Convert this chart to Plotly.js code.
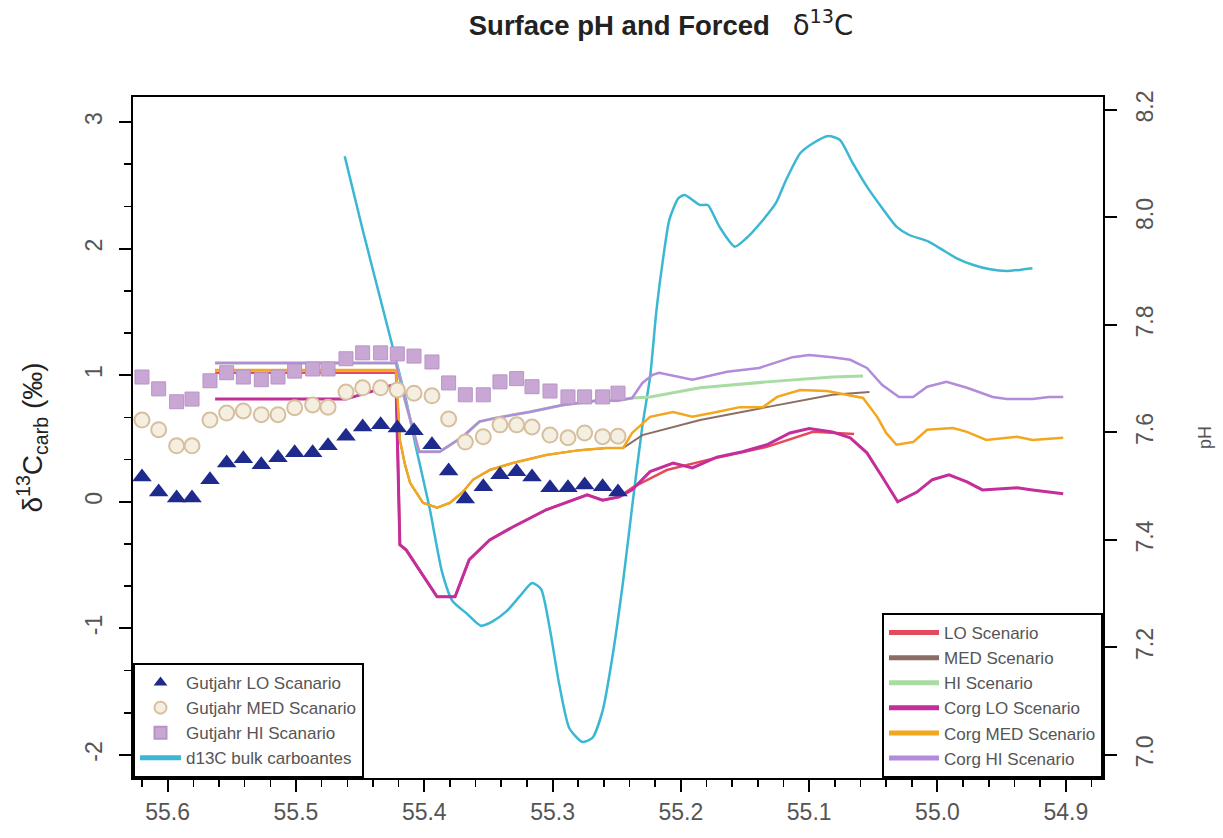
<!DOCTYPE html>
<html>
<head>
<meta charset="utf-8">
<script src="https://cdn.plot.ly/plotly-3.0.1.min.js"></script>
<style>
  html, body { margin: 0; padding: 0; background: #ffffff; }
  #chart { width: 1223px; height: 838px; }
</style>
</head>
<body>
<div id="chart"></div>
<script>
// ---------- data (age in Ma, reversed axis) ----------
const gutjahrAge = [55.620, 55.607, 55.593, 55.581, 55.567, 55.554, 55.541, 55.527, 55.514, 55.501, 55.487, 55.475, 55.461, 55.448, 55.434, 55.421, 55.408, 55.394, 55.381, 55.368, 55.354, 55.341, 55.328, 55.316, 55.302, 55.288, 55.275, 55.261, 55.249];
const gutjahrLO  = [7.517, 7.489, 7.478, 7.478, 7.512, 7.543, 7.551, 7.540, 7.553, 7.562, 7.562, 7.575, 7.593, 7.610, 7.614, 7.608, 7.603, 7.577, 7.528, 7.476, 7.499, 7.521, 7.527, 7.517, 7.497, 7.497, 7.502, 7.499, 7.489];
const gutjahrMED = [7.623, 7.605, 7.575, 7.575, 7.623, 7.636, 7.640, 7.633, 7.633, 7.646, 7.651, 7.647, 7.675, 7.683, 7.683, 7.679, 7.673, 7.668, 7.625, 7.582, 7.592, 7.614, 7.614, 7.610, 7.595, 7.590, 7.599, 7.592, 7.593];
const gutjahrHI  = [7.703, 7.681, 7.657, 7.662, 7.696, 7.711, 7.703, 7.698, 7.703, 7.714, 7.718, 7.718, 7.737, 7.748, 7.748, 7.746, 7.742, 7.731, 7.692, 7.670, 7.670, 7.694, 7.700, 7.685, 7.677, 7.666, 7.666, 7.666, 7.673];

const bulkAge = [55.462, 55.448, 55.435, 55.422, 55.414, 55.406, 55.396, 55.386, 55.378, 55.367, 55.356, 55.347, 55.336, 55.326, 55.316, 55.309, 55.302, 55.295, 55.287, 55.277, 55.269, 55.261, 55.253, 55.245, 55.238, 55.230, 55.224, 55.219, 55.214, 55.209, 55.202, 55.197, 55.185, 55.179, 55.170, 55.158, 55.149, 55.136, 55.126, 55.118, 55.107, 55.097, 55.085, 55.076, 55.066, 55.055, 55.043, 55.032, 55.022, 55.007, 54.996, 54.985, 54.972, 54.959, 54.946, 54.936, 54.926];
const bulkD13C = [2.729, 2.149, 1.633, 1.120, 0.796, 0.409, -0.041, -0.560, -0.784, -0.882, -0.979, -0.946, -0.866, -0.752, -0.641, -0.689, -1.011, -1.431, -1.787, -1.897, -1.866, -1.652, -1.202, -0.626, -0.041, 0.599, 0.986, 1.515, 1.910, 2.226, 2.397, 2.423, 2.344, 2.344, 2.173, 2.015, 2.081, 2.226, 2.358, 2.542, 2.753, 2.832, 2.889, 2.858, 2.674, 2.489, 2.318, 2.173, 2.107, 2.055, 1.989, 1.923, 1.870, 1.836, 1.823, 1.831, 1.844];

const loAge = [55.563, 55.422, 55.419, 55.414, 55.390, 55.376, 55.365, 55.349, 55.331, 55.305, 55.273, 55.261, 55.248, 55.238, 55.211, 55.172, 55.133, 55.097, 55.065];
const loPH  = [7.711, 7.711, 7.391, 7.381, 7.294, 7.294, 7.363, 7.400, 7.424, 7.456, 7.484, 7.474, 7.480, 7.497, 7.530, 7.553, 7.573, 7.601, 7.597];

const medAge = [55.563, 55.422, 55.419, 55.415, 55.411, 55.401, 55.390, 55.380, 55.370, 55.362, 55.349, 55.331, 55.305, 55.279, 55.258, 55.245, 55.230, 55.185, 55.133, 55.082, 55.053];
const medPH  = [7.716, 7.716, 7.586, 7.540, 7.506, 7.469, 7.460, 7.469, 7.489, 7.512, 7.530, 7.543, 7.558, 7.567, 7.571, 7.571, 7.595, 7.623, 7.647, 7.670, 7.675];

const hiAge = [55.563, 55.422, 55.415, 55.404, 55.388, 55.370, 55.357, 55.344, 55.318, 55.292, 55.263, 55.250, 55.238, 55.224, 55.185, 55.133, 55.082, 55.058];
const hiPH  = [7.729, 7.729, 7.660, 7.564, 7.564, 7.592, 7.620, 7.627, 7.638, 7.651, 7.660, 7.659, 7.664, 7.666, 7.683, 7.694, 7.703, 7.705];

const corgLoAge = [55.563, 55.461, 55.422, 55.419, 55.414, 55.390, 55.376, 55.365, 55.349, 55.331, 55.305, 55.273, 55.261, 55.248, 55.238, 55.224, 55.206, 55.191, 55.172, 55.152, 55.133, 55.115, 55.100, 55.082, 55.068, 55.055, 55.043, 55.031, 55.016, 55.004, 54.991, 54.977, 54.965, 54.938, 54.926, 54.902];
const corgLoPH  = [7.662, 7.662, 7.690, 7.391, 7.381, 7.294, 7.294, 7.363, 7.400, 7.424, 7.456, 7.484, 7.474, 7.480, 7.493, 7.527, 7.543, 7.534, 7.554, 7.564, 7.577, 7.599, 7.607, 7.601, 7.590, 7.562, 7.517, 7.471, 7.489, 7.512, 7.521, 7.508, 7.493, 7.497, 7.493, 7.486];

const corgMedAge = [55.563, 55.422, 55.419, 55.415, 55.411, 55.401, 55.390, 55.380, 55.370, 55.362, 55.349, 55.331, 55.305, 55.279, 55.258, 55.245, 55.238, 55.224, 55.206, 55.191, 55.172, 55.154, 55.136, 55.125, 55.107, 55.086, 55.071, 55.058, 55.047, 55.040, 55.032, 55.019, 55.008, 54.988, 54.977, 54.962, 54.938, 54.926, 54.902];
const corgMedPH  = [7.716, 7.716, 7.586, 7.540, 7.506, 7.469, 7.460, 7.469, 7.489, 7.512, 7.530, 7.543, 7.558, 7.567, 7.571, 7.571, 7.599, 7.629, 7.638, 7.629, 7.638, 7.647, 7.647, 7.666, 7.679, 7.677, 7.670, 7.664, 7.629, 7.599, 7.577, 7.582, 7.605, 7.608, 7.601, 7.586, 7.592, 7.586, 7.590];

const corgHiAge = [55.563, 55.422, 55.415, 55.404, 55.388, 55.370, 55.357, 55.344, 55.318, 55.292, 55.263, 55.250, 55.238, 55.230, 55.222, 55.217, 55.191, 55.164, 55.139, 55.113, 55.100, 55.082, 55.068, 55.055, 55.043, 55.030, 55.019, 55.008, 54.993, 54.977, 54.957, 54.946, 54.926, 54.913, 54.902];
const corgHiPH  = [7.729, 7.729, 7.660, 7.564, 7.564, 7.592, 7.620, 7.627, 7.638, 7.651, 7.660, 7.659, 7.664, 7.692, 7.707, 7.711, 7.698, 7.713, 7.720, 7.740, 7.744, 7.740, 7.735, 7.720, 7.688, 7.666, 7.666, 7.685, 7.694, 7.683, 7.666, 7.662, 7.662, 7.666, 7.666];

const xTickVals  = [55.6, 55.5, 55.4, 55.3, 55.2, 55.1, 55.0, 54.9];
const xTickText  = ['55.6', '55.5', '55.4', '55.3', '55.2', '55.1', '55.0', '54.9'];
const yTickVals  = [-2, -1, 0, 1, 2, 3];
const yTickText  = ['-2', '-1', '0', '1', '2', '3'];
const y2TickVals = [7.0, 7.2, 7.4, 7.6, 7.8, 8.0, 8.2];
const y2TickText = ['7.0', '7.2', '7.4', '7.6', '7.8', '8.0', '8.2'];

// ---------- traces ----------
const FONT = 'Liberation Sans, Arial, Helvetica, sans-serif';
function scen(name, x, y, color, width, rank) {
  return { type: 'scatter', mode: 'lines', name: name, x: x, y: y, yaxis: 'y2',
    line: { color: color, width: width }, legend: 'legend2', legendrank: rank };
}
const traces = [
  scen('LO Scenario', loAge, loPH, '#e5495c', 2.5, 1),
  scen('MED Scenario', medAge, medPH, '#8a6e64', 2, 2),
  scen('HI Scenario', hiAge, hiPH, '#a9dca3', 3, 3),
  scen('Corg LO Scenario', corgLoAge, corgLoPH, '#c42e9b', 3, 4),
  scen('Corg MED Scenario', corgMedAge, corgMedPH, '#f2a71e', 2.5, 5),
  scen('Corg HI Scenario', corgHiAge, corgHiPH, '#b28bdb', 2.5, 6),
  { type: 'scatter', mode: 'lines', name: 'd13C bulk carboantes', x: bulkAge, y: bulkD13C, yaxis: 'y',
    line: { color: '#3ab7d2', width: 2.5, shape: 'spline', smoothing: 0.6 }, legend: 'legend', legendrank: 4 },
  { type: 'scatter', mode: 'markers', name: 'Gutjahr LO Scanario', x: gutjahrAge, y: gutjahrLO, yaxis: 'y2',
    marker: { symbol: 'triangle-up', size: 17, color: '#1f2b8c' }, legend: 'legend', legendrank: 1 },
  { type: 'scatter', mode: 'markers', name: 'Gutjahr MED Scanario', x: gutjahrAge, y: gutjahrMED, yaxis: 'y2',
    marker: { symbol: 'circle', size: 15, color: '#f5efe2', line: { color: '#d6bf9f', width: 2 } }, legend: 'legend', legendrank: 2 },
  { type: 'scatter', mode: 'markers', name: 'Gutjahr HI Scanario', x: gutjahrAge, y: gutjahrHI, yaxis: 'y2',
    marker: { symbol: 'square', size: 14, color: '#c9a7d4', line: { color: '#b794c6', width: 1 } }, legend: 'legend', legendrank: 3 }
];

const axisCommon = {
  showgrid: false, zeroline: false, showline: true, linecolor: '#000', linewidth: 2,
  ticks: 'outside', ticklen: 12, tickwidth: 2, tickcolor: '#000',
  tickfont: { family: FONT, size: 23, color: '#555' }
};

const layout = {
  width: 1223, height: 838,
  paper_bgcolor: '#ffffff', plot_bgcolor: '#ffffff',
  margin: { l: 133, r: 120, t: 97, b: 60 },
  font: { family: FONT, color: '#333' },
  title: {
    text: '<b>Surface pH and Forced</b>\u00a0\u00a0\u00a0<span style="font-family:DejaVu Sans">δ<sup>13</sup>C</span>',
    font: { family: FONT, size: 27.5, color: '#222' },
    xref: 'container', x: 0.5405, xanchor: 'center',
    yref: 'container', y: 0.97, yanchor: 'middle'
  },
  xaxis: Object.assign({}, axisCommon, {
    range: [55.627, 54.871], mirror: true,
    tickmode: 'array', tickvals: xTickVals, ticktext: xTickText, ticklabelstandoff: 0,
    minor: { dtick: 0.02, tick0: 0, ticks: 'outside', ticklen: 7, tickwidth: 1.5, tickcolor: '#000', showgrid: false }
  }),
  yaxis: Object.assign({}, axisCommon, {
    range: [-2.182, 3.197],
    tickmode: 'array', tickvals: yTickVals, ticktext: yTickText, tickangle: -90, ticklabelstandoff: 8,
    minor: { dtick: 1 / 3, tick0: 0, ticks: 'outside', ticklen: 7, tickwidth: 1.5, tickcolor: '#000', showgrid: false },
    title: { text: 'δ<sup>13</sup>C<sub>carb</sub> (‰)', font: { family: FONT, size: 28, color: '#222' }, standoff: 30 }
  }),
  yaxis2: Object.assign({}, axisCommon, {
    range: [6.957, 8.224], overlaying: 'y', side: 'right',
    tickmode: 'array', tickvals: y2TickVals, ticktext: y2TickText, tickangle: -90, ticklabelstandoff: 8,
    title: { text: 'pH', font: { family: FONT, size: 18, color: '#555' }, standoff: 42 }
  }),
  legend: {
    x: 0, y: 0, xanchor: 'left', yanchor: 'bottom', xref: 'paper', yref: 'paper',
    bgcolor: '#ffffff', bordercolor: '#000', borderwidth: 2, itemwidth: 41,
    font: { family: FONT, size: 17, color: '#555' }, itemsizing: 'constant', tracegroupgap: 0
  },
  legend2: {
    x: 1, y: 0, xanchor: 'right', yanchor: 'bottom', xref: 'paper', yref: 'paper',
    bgcolor: '#ffffff', bordercolor: '#000', borderwidth: 2, itemwidth: 50,
    font: { family: FONT, size: 17, color: '#555' }, itemsizing: 'constant', tracegroupgap: 0
  },
  showlegend: true
};

Plotly.newPlot('chart', traces, layout, { displayModeBar: false, staticPlot: true });
</script>
</body>
</html>
